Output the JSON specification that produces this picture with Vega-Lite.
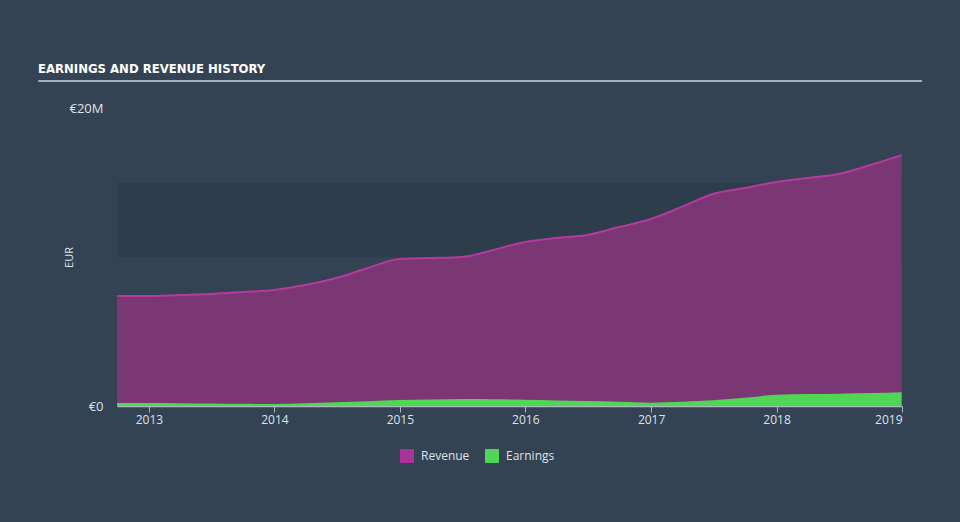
{
  "$schema": "https://vega.github.io/schema/vega-lite/v6.json",
  "autosize": {"type": "none"},
  "width": 785,
  "height": 298,
  "padding": {"left": 117, "top": 108, "right": 58, "bottom": 116},
  "background": "#334353",
  "config": {
    "view": {"stroke": null},
    "font": "Open Sans"
  },
  "title": {
    "text": "EARNINGS AND REVENUE HISTORY",
    "anchor": "start",
    "frame": "group",
    "dx": -79,
    "offset": 4,
    "font": "DejaVu Sans Condensed",
    "fontSize": 13,
    "fontWeight": "bold",
    "color": "#ffffff"
  },
  "datasets": {
    "history": [
      {"date": "2012-09-30", "Revenue": 7.38, "Earnings": 0.2},
      {"date": "2012-12-31", "Revenue": 7.38, "Earnings": 0.2},
      {"date": "2013-03-31", "Revenue": 7.45, "Earnings": 0.19},
      {"date": "2013-06-30", "Revenue": 7.52, "Earnings": 0.17},
      {"date": "2013-09-30", "Revenue": 7.65, "Earnings": 0.15},
      {"date": "2013-12-31", "Revenue": 7.79, "Earnings": 0.13},
      {"date": "2014-03-31", "Revenue": 8.12, "Earnings": 0.18},
      {"date": "2014-06-30", "Revenue": 8.59, "Earnings": 0.25},
      {"date": "2014-09-30", "Revenue": 9.26, "Earnings": 0.32},
      {"date": "2014-12-31", "Revenue": 9.87, "Earnings": 0.4},
      {"date": "2015-03-31", "Revenue": 9.93, "Earnings": 0.43},
      {"date": "2015-06-30", "Revenue": 10.0, "Earnings": 0.47},
      {"date": "2015-09-30", "Revenue": 10.47, "Earnings": 0.45},
      {"date": "2015-12-31", "Revenue": 11.01, "Earnings": 0.42},
      {"date": "2016-03-31", "Revenue": 11.27, "Earnings": 0.37},
      {"date": "2016-06-30", "Revenue": 11.48, "Earnings": 0.33},
      {"date": "2016-09-30", "Revenue": 12.01, "Earnings": 0.28},
      {"date": "2016-12-31", "Revenue": 12.55, "Earnings": 0.22},
      {"date": "2017-03-31", "Revenue": 13.36, "Earnings": 0.28},
      {"date": "2017-06-30", "Revenue": 14.23, "Earnings": 0.38},
      {"date": "2017-09-30", "Revenue": 14.63, "Earnings": 0.55},
      {"date": "2017-12-31", "Revenue": 15.03, "Earnings": 0.76},
      {"date": "2018-03-31", "Revenue": 15.3, "Earnings": 0.8},
      {"date": "2018-06-30", "Revenue": 15.57, "Earnings": 0.83},
      {"date": "2018-09-30", "Revenue": 16.17, "Earnings": 0.87},
      {"date": "2018-12-31", "Revenue": 16.84, "Earnings": 0.92}
    ],
    "band": [{"low": 10, "high": 15}]
  },
  "layer": [
    {
      "data": {"name": "band"},
      "mark": {"type": "rect", "fill": "#1e2936", "opacity": 0.22},
      "encoding": {
        "y": {
          "field": "low",
          "type": "quantitative",
          "scale": {"domain": [0, 20]},
          "axis": {
            "values": [0, 20],
            "labelExpr": "datum.value === 0 ? '€0' : '€' + datum.value + 'M'",
            "grid": false,
            "ticks": false,
            "domain": false,
            "labelPadding": 14,
            "labelColor": "#dde2e8",
            "labelFontSize": 13,
            "title": "EUR",
            "titleColor": "#dde2e8",
            "titleFontSize": 11,
            "titleFontWeight": "normal",
            "titleX": -48,
            "titleY": 149,
            "titleAngle": -90,
            "titleAlign": "center",
            "titleBaseline": "middle"
          }
        },
        "y2": {"field": "high"}
      }
    },
    {
      "data": {"name": "history"},
      "transform": [
        {"fold": ["Revenue", "Earnings"], "as": ["series", "value"]},
        {"filter": "datum.series === 'Revenue'"}
      ],
      "mark": {"type": "area", "interpolate": "monotone"},
      "encoding": {
        "x": {
          "field": "date",
          "type": "temporal",
          "scale": {
            "type": "utc",
            "domain": [
              {"year": 2012, "month": 9, "date": 30, "utc": true},
              {"year": 2019, "month": 1, "date": 1, "utc": true}
            ]
          },
          "axis": {
            "title": null,
            "format": "%Y",
            "tickCount": {"interval": "year", "step": 1},
            "grid": false,
            "domainColor": "#aeb6bf",
            "domainWidth": 1.5,
            "tickColor": "#aeb6bf",
            "tickSize": 6,
            "labelColor": "#dde2e8",
            "labelFontSize": 12,
            "labelPadding": 2
          }
        },
        "y": {"field": "value", "type": "quantitative", "stack": null},
        "fill": {
          "condition": {"test": "datum.series === 'Revenue'", "value": "#7a3773"},
          "field": "series",
          "type": "nominal",
          "scale": {"domain": ["Revenue", "Earnings"], "range": ["#a8349a", "#4fd655"]},
          "legend": {
            "title": null,
            "orient": "none",
            "direction": "horizontal",
            "legendX": 283,
            "legendY": 341,
            "padding": 0,
            "symbolType": "square",
            "symbolSize": 196,
            "symbolStrokeWidth": 0,
            "symbolOpacity": 1,
            "labelColor": "#dde2e8",
            "labelFontSize": 12,
            "labelFont": "Open Sans",
            "labelOffset": 7,
            "columnPadding": 15
          }
        }
      }
    },
    {
      "data": {"name": "history"},
      "mark": {"type": "line", "interpolate": "monotone", "stroke": "#b43aa0", "strokeWidth": 2},
      "encoding": {
        "x": {"field": "date", "type": "temporal"},
        "y": {"field": "Revenue", "type": "quantitative"}
      }
    },
    {
      "data": {"name": "history"},
      "transform": [
        {"fold": ["Revenue", "Earnings"], "as": ["series", "value"]},
        {"filter": "datum.series === 'Earnings'"}
      ],
      "mark": {"type": "area", "interpolate": "monotone"},
      "encoding": {
        "x": {"field": "date", "type": "temporal"},
        "y": {"field": "value", "type": "quantitative", "stack": null},
        "fill": {"field": "series", "type": "nominal"}
      }
    },
    {
      "data": {"values": [{}]},
      "mark": {"type": "rule", "clip": false, "stroke": "#a9b0b9", "strokeWidth": 2},
      "encoding": {
        "x": {"datum": {"year": 2012, "month": 2, "date": 14, "utc": true}, "type": "temporal"},
        "x2": {"datum": {"year": 2019, "month": 2, "date": 28, "utc": true}},
        "y": {"datum": 21.81, "type": "quantitative"}
      }
    }
  ],
  "resolve": {"scale": {"fill": "shared"}}
}
